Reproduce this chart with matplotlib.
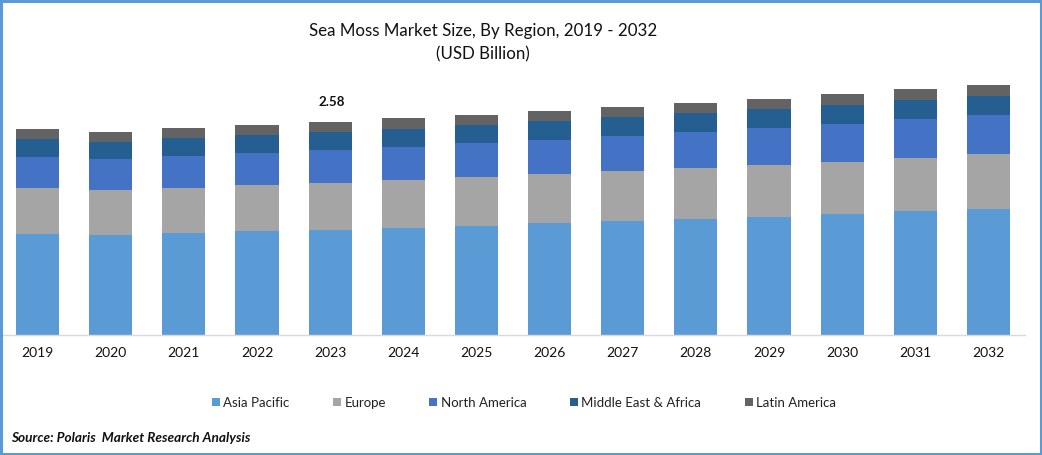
import matplotlib
matplotlib.use("Agg")
import matplotlib.pyplot as plt
import numpy as np
from matplotlib.patches import Rectangle

plt.rcParams['font.family'] = ['Lato', 'DejaVu Sans']

years = ['2019','2020','2021','2022','2023','2024','2025','2026','2027','2028','2029','2030','2031','2032']
asia_pacific = [1.227,1.211,1.235,1.259,1.272,1.296,1.320,1.356,1.381,1.405,1.429,1.465,1.502,1.526]
europe = [0.553,0.545,0.545,0.557,0.569,0.581,0.593,0.593,0.606,0.618,0.630,0.630,0.642,0.666]
north_america = [0.375,0.375,0.388,0.388,0.400,0.400,0.412,0.412,0.424,0.436,0.448,0.460,0.472,0.472]
middle_east_africa = [0.218,0.210,0.218,0.218,0.218,0.218,0.218,0.230,0.230,0.230,0.230,0.230,0.230,0.230]
latin_america = [0.121,0.117,0.121,0.121,0.121,0.133,0.121,0.121,0.121,0.121,0.121,0.133,0.133,0.133]
series_names = ['Asia Pacific','Europe','North America','Middle East & Africa','Latin America']
series = [asia_pacific, europe, north_america, middle_east_africa, latin_america]
colors = ['#5B9BD5','#A5A5A5','#4472C4','#255E91','#636363']
labelled_year = '2023'
labelled_total = '2.58'

W, H = 1042, 456
fig = plt.figure(figsize=(W/100, H/100), dpi=100, facecolor='white')
ax = fig.add_axes([1/W, 1-336/H, 1024/W, (336-61)/H])
x = np.arange(len(years))
bottom = np.zeros(len(years))
for name, vals, c in zip(series_names, series, colors):
    ax.bar(x, vals, 0.588, bottom=bottom, color=c, label=name, linewidth=0)
    bottom += np.array(vals)

ax.set_xlim(-0.5, 13.5)
ax.set_ylim(0, 275*2.58/213)
ax.set_yticks([])
ax.set_xticks(x, years)
ax.tick_params(axis='x', length=0, pad=8, labelsize=10, labelcolor='#111111')
for s in ['top','left','right']:
    ax.spines[s].set_visible(False)
ax.spines['bottom'].set_color('#D9D9D9')
ax.spines['bottom'].set_linewidth(1.0)
i = years.index(labelled_year)
ax.text(i+0.02, bottom[i]+0.25, labelled_total, ha='center', va='center', fontsize=9.6,
        fontweight='bold', color='#111111')

fig.text(483/W, 1-31/H, 'Sea Moss Market Size, By Region, 2019 - 2032', ha='center', va='center',
         fontsize=12.2, color='#111111')
fig.text(483/W, 1-54/H, '(USD Billion)', ha='center', va='center', fontsize=12.2, color='#111111')
fig.text(11/W, 1-438/H, 'Source: Polaris  Market Research Analysis', ha='left', va='center',
         fontsize=9.85, fontweight='bold', fontstyle='italic', color='#111111')

fig.legend(loc='center', bbox_to_anchor=(524/W, 1-403.5/H), ncol=5, frameon=False, fontsize=9.5,
           handlelength=0.6, handleheight=0.6, handletextpad=0.25, columnspacing=3.31,
           labelcolor='#222222', borderpad=0, borderaxespad=0)

fig.add_artist(Rectangle((1/W, 1/H), (W-2.5)/W, (H-2.5)/H, transform=fig.transFigure, fill=False,
                         edgecolor='#5B9BD5', linewidth=2.2))
fig.savefig('out.png', dpi=100, facecolor='white')
